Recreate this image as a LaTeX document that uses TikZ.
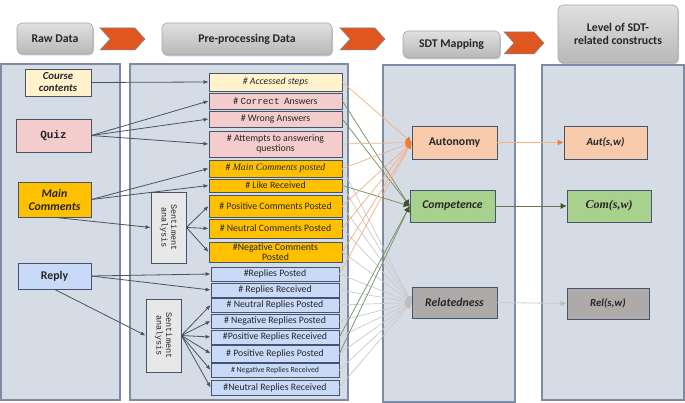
\documentclass[tikz,border=0pt]{standalone}
\usepackage{fontspec}
\setmainfont{Carlito}
\newfontfamily\monofont{Liberation Mono}
\newfontfamily\seriffont{Liberation Serif}
\usetikzlibrary{shapes.symbols,shadows,arrows.meta}
\definecolor{panel}{HTML}{D6DCE5}
\definecolor{panelline}{HTML}{7D8CA3}
\definecolor{dk}{HTML}{44546A}
\definecolor{cyellow}{HTML}{FFF2CC}
\definecolor{cpink}{HTML}{F4CCCC}
\definecolor{corange}{HTML}{FFC000}
\definecolor{cblue}{HTML}{C9DAF8}
\definecolor{cpeach}{HTML}{F8CBAD}
\definecolor{cgreen}{HTML}{A9D18E}
\definecolor{cgray}{HTML}{AEAAAA}
\definecolor{sgray}{HTML}{E8E8E8}
\definecolor{chev}{HTML}{E0561F}
\definecolor{lorange}{HTML}{F4B183}
\definecolor{horange}{HTML}{ED7D31}
\definecolor{lgreen}{HTML}{6E8F5C}
\definecolor{hgreen}{HTML}{385723}
\definecolor{lgray}{HTML}{CBCBCB}
\definecolor{hgray}{HTML}{BDBDBD}
\definecolor{txt}{HTML}{262626}
\begin{document}
\begin{tikzpicture}[x=1pt,y=1pt,
  panelbox/.style={draw=panelline, fill=panel, line width=1.2pt, inner sep=0pt},
  hdr/.style={rounded corners=5pt, draw=black!35, line width=0.6pt, top color=black!12, bottom color=black!28,
     drop shadow={opacity=0.4,shadow xshift=1pt,shadow yshift=-1.5pt},
     font=\bfseries\fontsize{11.8}{13}\selectfont, text=txt, align=center, inner sep=1pt},
  chevron/.style={signal, signal to=east, signal from=west, signal pointer angle=95,
     fill=chev, draw=dk!70, line width=0.5pt, inner sep=0pt},
  box/.style={draw=dk, line width=0.8pt, inner sep=1pt, align=center, text=txt},
  lft/.style={box, line width=0.7pt, font=\bfseries\fontsize{11.8}{12.5}\selectfont},
  mid/.style={box, minimum width=133pt, font=\fontsize{9.8}{10.5}\selectfont},
  rmid/.style={box, fill=cblue, minimum width=128pt, font=\fontsize{9.8}{10.5}\selectfont},
  senti/.style={box, fill=sgray, rotate=-90, font=\monofont\fontsize{8.5}{9.5}\selectfont},
  sdt/.style={box, line width=0.8pt, minimum width=85pt, font=\bfseries\fontsize{11.8}{13}\selectfont},
  conn/.style={draw=dk, line width=0.8pt, -{Latex[length=5pt,width=4pt]}},
  oline/.style={draw=lorange, line width=0.7pt, -{Latex[length=6pt,width=6pt,color=horange]}},
  gline/.style={draw=lgreen, line width=0.7pt, -{Latex[length=6pt,width=6pt,color=hgreen]}},
  yline/.style={draw=lgray, line width=0.7pt, -{Latex[length=6pt,width=6pt,color=hgray]}},
]
\useasboundingbox (0,0) rectangle (685,-403);
\fill[white] (0,0) rectangle (685,-403);

% headers
\node[hdr, minimum width=76pt, minimum height=31pt] (hraw) at (55,-38.5) {Raw Data};
\node[hdr, minimum width=170pt, minimum height=32pt] (hpre) at (247,-39) {Pre-processing Data};
\node[hdr, minimum width=97pt, minimum height=27pt] (hsdt) at (451.5,-44.5) {SDT Mapping};
\node[hdr, minimum width=120pt, minimum height=58pt] (hlev) at (618,-34) {Level of SDT-\\related constructs};
\node[chevron, minimum width=45pt, minimum height=22pt] (c1) at (122.5,-39) {};
\node[chevron, minimum width=45pt, minimum height=22pt] (c2) at (362.5,-39) {};
\node[chevron, minimum width=40pt, minimum height=22pt] (c3) at (524,-43) {};

% panels
\node[panelbox, minimum width=119pt, minimum height=336pt] (p1) at (60.5,-232) {};
\node[panelbox, minimum width=218pt, minimum height=336pt] (p2) at (239,-232) {};
\node[panelbox, minimum width=132pt, minimum height=337pt] (p3) at (449,-233.5) {};
\node[panelbox, minimum width=142pt, minimum height=335pt] (p4) at (613,-232.5) {};

% raw data nodes
\node[lft, fill=cyellow, minimum width=66pt, minimum height=27pt, font=\bfseries\itshape\fontsize{10.8}{12}\selectfont] (course) at (58,-82.5) {Course\\contents};
\node[lft, fill=cpink, minimum width=75pt, minimum height=33pt, font=\monofont\bfseries\fontsize{11}{12}\selectfont] (quiz) at (53.5,-135.5) {Quiz};
\node[lft, fill=corange, minimum width=73pt, minimum height=35pt, font=\bfseries\itshape\fontsize{11.8}{13}\selectfont] (mainc) at (54.5,-199.5) {Main\\Comments};
\node[lft, fill=cblue, minimum width=73pt, minimum height=26pt] (reply) at (54.5,-276) {Reply};

% sentiment boxes
\node[senti, minimum width=71pt, minimum height=35pt] (s1) at (168.5,-227.5) {Sentiment\\analysis};
\node[senti, minimum width=73pt, minimum height=35pt] (s2) at (163.5,-335.5) {Sentiment\\analysis};

% pre-processing nodes
\node[mid, fill=cyellow, minimum height=18pt] (m1) at (275.5,-82) {\itshape\# Accessed steps};
\node[mid, fill=cpink, minimum height=16pt] (m2) at (275.5,-101) {\# {\monofont\fontsize{9.3}{10}\selectfont Correct}\ \ Answers};
\node[mid, fill=cpink, minimum height=16pt] (m3) at (275.5,-119) {\# Wrong Answers};
\node[mid, fill=cpink, minimum height=26pt] (m4) at (275.5,-144) {\# Attempts to answering\\questions};
\node[mid, fill=corange, minimum height=17pt] (m5) at (275.5,-168.5) {\# {\seriffont\itshape Main Comments posted}};
\node[mid, fill=corange, minimum height=13pt] (m6) at (275.5,-185.5) {\# Like Received};
\node[mid, fill=corange, minimum height=22pt] (m7) at (275.5,-206) {\# Positive Comments Posted};
\node[mid, fill=corange, minimum height=19pt] (m8) at (275.5,-228.5) {\# Neutral Comments Posted};
\node[mid, fill=corange, minimum height=20pt, inner sep=0pt, font=\fontsize{9.8}{9.8}\selectfont] (m9) at (275.5,-252) {\#Negative Comments\\Posted};
\node[rmid, minimum height=14pt] (r1) at (275,-274) {\#Replies Posted};
\node[rmid, minimum height=14pt] (r2) at (275,-290) {\# Replies Received};
\node[rmid, minimum height=14pt] (r3) at (275,-305) {\# Neutral Replies Posted};
\node[rmid, minimum height=14pt] (r4) at (275,-321) {\# Negative Replies Posted};
\node[rmid, minimum height=14pt] (r5) at (275,-337) {\#Positive Replies Received};
\node[rmid, minimum height=17pt] (r6) at (275,-353.5) {\# Positive Replies Posted};
\node[rmid, minimum height=14pt, font=\fontsize{7.8}{9}\selectfont] (r7) at (275,-370) {\# Negative Replies Received};
\node[rmid, minimum height=15pt] (r8) at (275,-387.5) {\#Neutral Replies Received};

% SDT nodes
\node[sdt, fill=cpeach, minimum height=33pt] (aut) at (454.5,-142.5) {Autonomy};
\node[sdt, fill=cgreen, minimum height=32pt, font=\bfseries\itshape\fontsize{11.8}{13}\selectfont] (com) at (452.5,-206) {Competence};
\node[sdt, fill=cgray, minimum height=31pt, font=\bfseries\itshape\fontsize{11.8}{13}\selectfont] (rel) at (454.5,-302.5) {Relatedness};

% level nodes
\node[sdt, fill=cpeach, minimum width=83pt, minimum height=33pt, font=\bfseries\itshape\fontsize{10.8}{12}\selectfont] (auts) at (605.5,-142.5) {Aut(s,w)};
\node[sdt, fill=cgreen, minimum width=84pt, minimum height=32pt, font=\seriffont\bfseries\itshape\fontsize{12}{13}\selectfont] (coms) at (609,-206) {Com(s,w)};
\node[sdt, fill=cgray, minimum width=82pt, minimum height=31pt, font=\bfseries\itshape\fontsize{10.8}{12}\selectfont] (rels) at (608,-303.5) {Rel(s,w)};

% raw -> pre-processing connectors
\draw[conn] (course.east) -- (m1.west);
\draw[conn] (quiz.east) -- (m2.west);
\draw[conn] (quiz.east) -- (m3.west);
\draw[conn] (quiz.east) -- (m4.west);
\draw[conn] (mainc.east) -- (m5.west);
\draw[conn] (mainc.east) -- (m6.west);
\draw[conn] (mainc.south) -- (s1.south);
\draw[conn] (s1.north) -- (m7.west);
\draw[conn] (s1.north) -- (m8.west);
\draw[conn] (s1.north) -- (m9.west);
\draw[conn] (reply.east) -- (r1.west);
\draw[conn] (reply.east) -- (r2.west);
\draw[conn] (reply.south) -- (s2.south);
\foreach \r in {r3,r4,r5,r6,r7,r8} \draw[conn] (s2.north) -- (\r.west);

% pre-processing -> SDT mapping
\foreach \m in {m5,m6,m7,m8,m9,r1,r2,r3,r4,r5,r6,r7,r8} \draw[yline] (\m.east) -- (rel.west);
\foreach \m in {m2,m3,m6,r5,r6} \draw[gline] (\m.east) -- (com.west);
\foreach \m in {m1,m4,m5,m7,m8,m9,r1} \draw[oline] (\m.east) -- (aut.west);

% SDT mapping -> constructs
\draw[oline, line width=0.8pt] (aut.east) -- (auts.west);
\draw[gline, draw=hgreen!80, line width=0.8pt] (com.east) -- (coms.west);
\draw[yline, line width=0.8pt] (rel.east) -- (rels.west);
\end{tikzpicture}
\end{document}
